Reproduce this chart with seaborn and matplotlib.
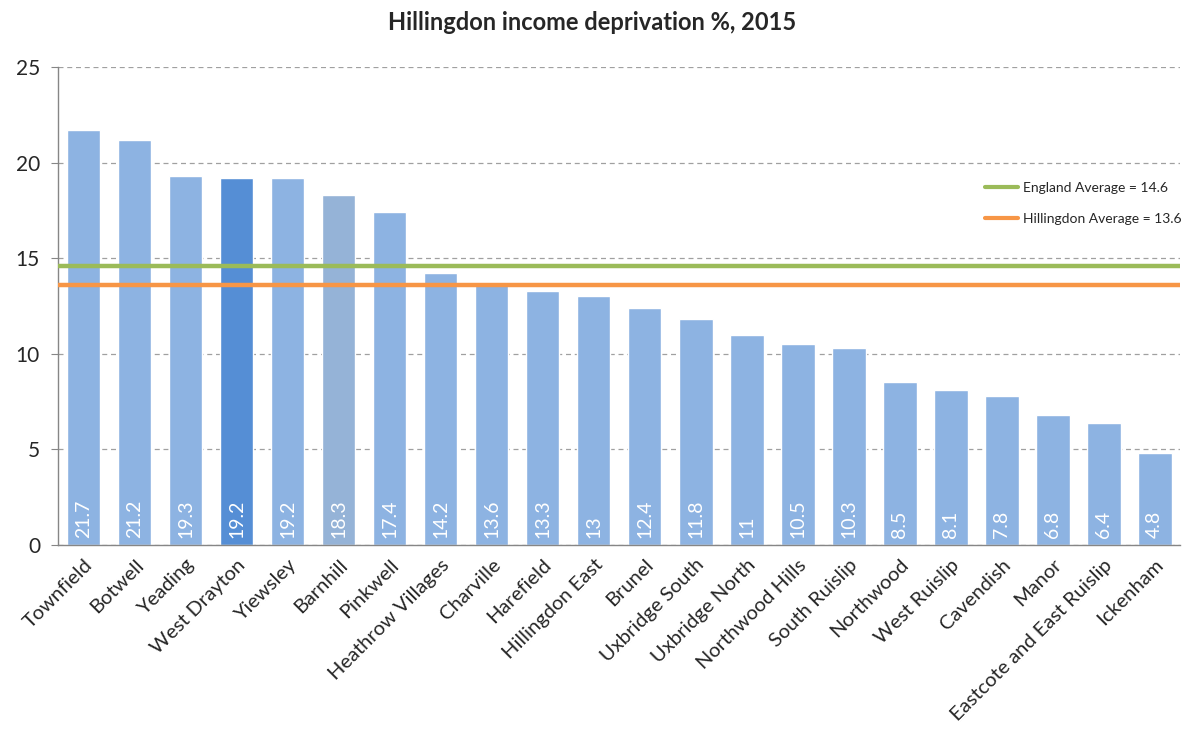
import matplotlib
matplotlib.use("Agg")
import matplotlib.pyplot as plt
import seaborn as sns
import pandas as pd
import numpy as np
from matplotlib.lines import Line2D

wards = ["Townfield", "Botwell", "Yeading", "West Drayton", "Yiewsley", "Barnhill",
         "Pinkwell", "Heathrow Villages", "Charville", "Harefield", "Hillingdon East",
         "Brunel", "Uxbridge South", "Uxbridge North", "Northwood Hills", "South Ruislip",
         "Northwood", "West Ruislip", "Cavendish", "Manor", "Eastcote and East Ruislip",
         "Ickenham"]
values = [21.7, 21.2, 19.3, 19.2, 19.2, 18.3, 17.4, 14.2, 13.6, 13.3, 13, 12.4, 11.8,
          11, 10.5, 10.3, 8.5, 8.1, 7.8, 6.8, 6.4, 4.8]
label_text = ["21.7", "21.2", "19.3", "19.2", "19.2", "18.3", "17.4", "14.2", "13.6",
              "13.3", "13", "12.4", "11.8", "11", "10.5", "10.3", "8.5", "8.1", "7.8",
              "6.8", "6.4", "4.8"]
england_avg = 14.6
hillingdon_avg = 13.6

df = pd.DataFrame({"ward": wards, "value": values})
colors = ["#8DB3E2"] * len(wards)
colors[wards.index("West Drayton")] = "#558ED5"
colors[wards.index("Barnhill")] = "#95B3D7"

sns.set_style("white")
plt.rcParams["font.family"] = ["Lato", "DejaVu Sans"]

fig = plt.figure(figsize=(11.85, 7.4), dpi=100)
ax = fig.add_axes([0.049, 0.2635, 0.947, 0.646])

sns.barplot(data=df, x="ward", y="value", hue="ward", palette=colors, legend=False,
            width=0.66, saturation=1, ax=ax, zorder=2)

for i, (v, t) in enumerate(zip(values, label_text)):
    ax.text(i, 0.35, t, rotation=90, ha="center", va="bottom", color="white",
            fontsize=14, zorder=3)

ax.axhline(england_avg, color="#9BBB59", lw=3.2, zorder=4)
ax.axhline(hillingdon_avg, color="#F79646", lw=3.2, zorder=4)

ax.set_ylim(0, 25)
ax.set_xlim(-0.5, len(wards) - 0.5)
ax.set_yticks([0, 5, 10, 15, 20, 25])
ax.yaxis.grid(True, linestyle=(0, (4, 3)), color="#A0A0A0", lw=0.9, zorder=0)
ax.set_axisbelow(True)

ax.set_xticks(range(len(wards)))
ax.set_xticklabels(wards, rotation=45, ha="right", rotation_mode="anchor", fontsize=14.5)
ax.tick_params(axis="x", length=0, pad=8)
ax.set_xticks(np.arange(-0.5, len(wards), 1), minor=True)
ax.tick_params(axis="x", which="minor", length=5, color="#868686", direction="out")
ax.tick_params(axis="y", labelsize=15, length=5, color="#868686", direction="out", pad=8,
               left=True)

for s in ["top", "right"]:
    ax.spines[s].set_visible(False)
for s in ["left", "bottom"]:
    ax.spines[s].set_color("#868686")
    ax.spines[s].set_linewidth(1)

ax.set_xlabel("")
ax.set_ylabel("")

handles = [Line2D([0], [0], color="#9BBB59", lw=3),
           Line2D([0], [0], color="#F79646", lw=3)]
ax.legend(handles, ["England Average = 14.6", "Hillingdon Average = 13.6"],
          loc="upper right", bbox_to_anchor=(1.012, 0.785), frameon=False, fontsize=10,
          handlelength=2.4, handletextpad=0.3, labelspacing=1.35)

fig.suptitle("Hillingdon income deprivation %, 2015", fontsize=17, fontweight="bold",
             y=0.985)

fig.savefig("out.png", dpi=100)
